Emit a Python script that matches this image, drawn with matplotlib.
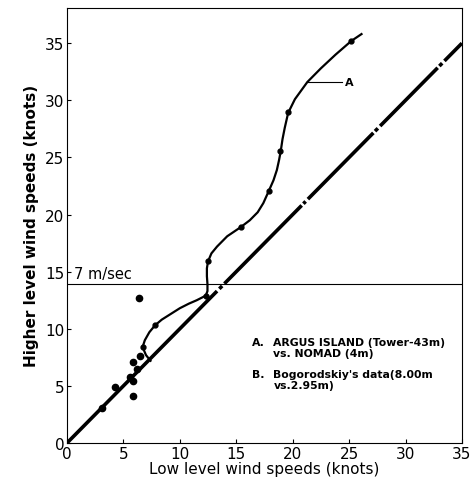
import matplotlib
matplotlib.use("Agg")
import matplotlib.pyplot as plt

# curve A (ARGUS ISLAND vs NOMAD)
curve_a_x = [7.4, 7.0, 6.7, 6.9, 7.3, 7.8, 8.4, 9.2, 10.0, 10.8, 11.5, 12.0, 12.3,
             12.45, 12.45, 12.4, 12.4, 12.5, 12.8, 13.3, 14.2, 14.8, 15.4, 16.2,
             16.9, 17.4, 17.9, 18.3, 18.6, 18.8, 18.95, 19.1, 19.3, 19.6, 20.2,
             21.3, 22.5, 23.8, 25.2, 26.1]
curve_a_y = [7.2, 7.7, 8.4, 9.0, 9.7, 10.3, 10.8, 11.3, 11.8, 12.2, 12.5, 12.75, 12.9,
             13.3, 13.9, 14.6, 15.3, 15.9, 16.6, 17.2, 18.1, 18.5, 18.9, 19.5,
             20.2, 21.0, 22.1, 23.0, 23.9, 24.8, 25.6, 26.6, 27.6, 28.9, 30.1,
             31.6, 32.8, 34.0, 35.2, 35.8]

# plotted points
pts_x = [25.2, 19.6, 18.9, 17.9, 15.4, 12.5, 12.3, 7.8, 6.7, 6.4,
         6.5, 5.85, 6.2, 5.6, 5.85, 5.85, 4.25, 3.1]
pts_y = [35.2, 29.0, 25.6, 22.1, 18.9, 15.9, 12.9, 10.3, 8.4, 12.7,
         7.6, 7.1, 6.5, 5.8, 5.4, 4.1, 4.9, 3.1]

# line B (Bogorodskiy) pieces: x start / x end along y = x
b_starts = [0.0, 13.5, 13.95, 20.95, 21.35, 27.3, 27.75, 33.0, 33.45]
b_ends = [13.3, 13.75, 20.8, 21.15, 27.15, 27.55, 32.85, 33.25, 35.0]

ms_line = 13.6  # 7 m/sec in knots

ticks = [0, 5, 10, 15, 20, 25, 30, 35]

fig = plt.figure(figsize=(4.73, 4.89), dpi=100)
ax = fig.add_axes([0.1416, 0.092, 0.835, 0.89])

for s, e in zip(b_starts, b_ends):
    ax.plot([s, e], [s, e], color="black", lw=2.6, solid_capstyle="butt")

ax.plot(curve_a_x, curve_a_y, color="black", lw=1.6)
ax.plot(pts_x[:9], pts_y[:9], "o", color="black", ms=3.5)
ax.plot(pts_x[9:], pts_y[9:], "o", color="black", ms=4.5)

ax.axhline(ms_line + 0.3, color="black", lw=0.8)
ax.text(0.6, ms_line + 0.6, "7 m/sec", fontsize=10.5, ha="left", va="bottom")

ax.plot([21.3, 24.4], [31.6, 31.6], color="black", lw=0.8)
ax.text(24.6, 31.6, "A", fontsize=8, fontweight="bold", va="center")

ax.text(16.4, 9.3, "A.", fontsize=7.8, fontweight="bold", va="top")
ax.text(18.3, 9.3, "ARGUS ISLAND (Tower-43m)\nvs. NOMAD (4m)", fontsize=7.8,
        fontweight="bold", linespacing=1.1, va="top")
ax.text(16.4, 6.5, "B.", fontsize=7.8, fontweight="bold", va="top")
ax.text(18.3, 6.5, "Bogorodskiy's data(8.00m\nvs.2.95m)", fontsize=7.8,
        fontweight="bold", linespacing=1.1, va="top")

ax.set_xlim(0, 35)
ax.set_ylim(0, 38.1)
ax.set_xticks(ticks)
ax.set_yticks(ticks)
ax.tick_params(direction="in", length=3, labelsize=11, pad=2)
ax.set_xlabel("Low level wind speeds (knots)", fontsize=11, labelpad=0)
ax.set_ylabel("Higher level wind speeds (knots)", fontsize=11, fontweight="bold", labelpad=4)

fig.savefig("out.png", dpi=100)
